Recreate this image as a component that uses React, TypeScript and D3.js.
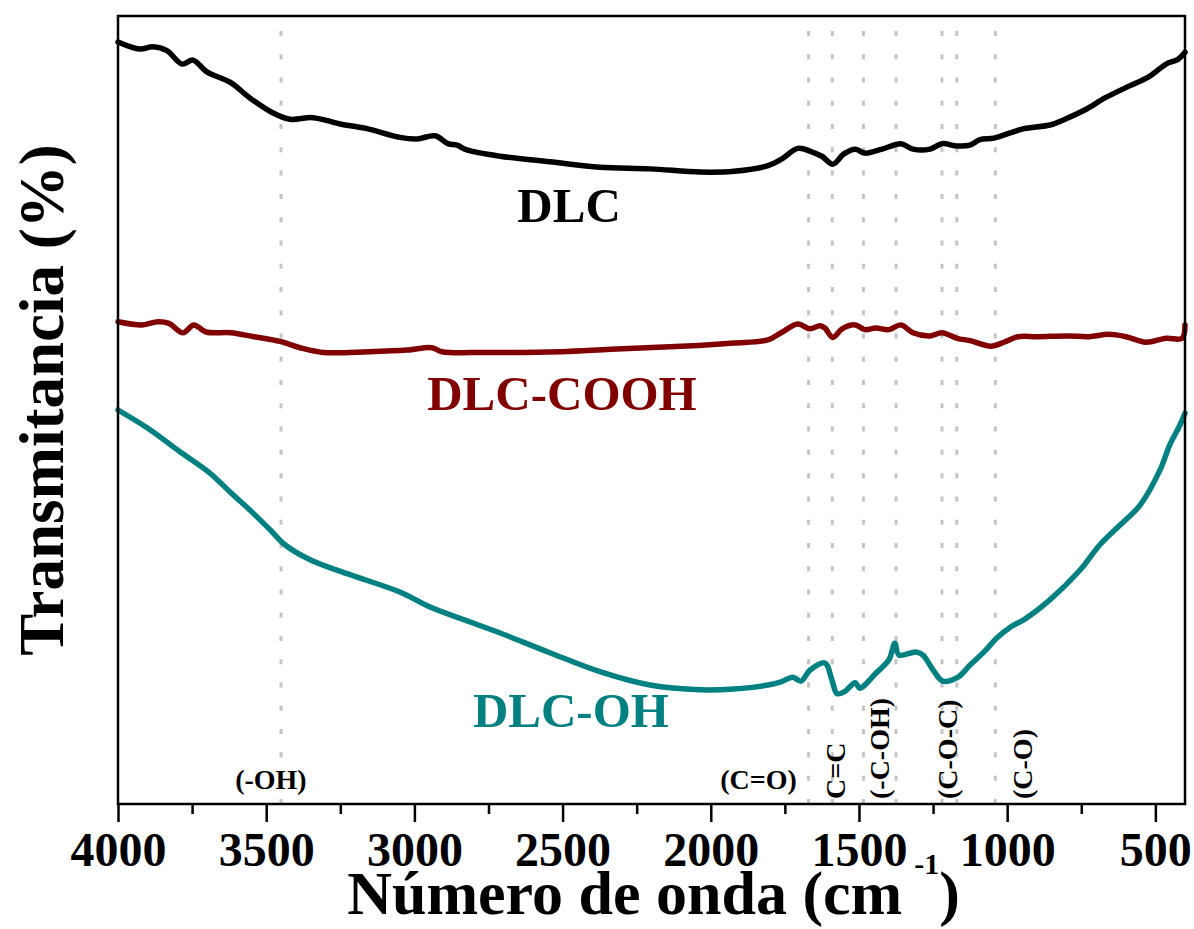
import React, { useEffect, useRef } from "react";
import * as d3 from "d3";

// FTIR spectra: [wavenumber (cm-1), transmittance (a.u.)]
const dlc: [number, number][] = [
  [4000, 96.7], [3926, 95.8], [3882, 96.1], [3835, 95.6], [3784, 93.9], [3747, 94.4],
  [3700, 92.9], [3622, 91.6], [3555, 89.6], [3477, 87.7], [3420, 86.9], [3342, 87.1],
  [3251, 86.3], [3160, 85.7], [3049, 84.6], [2991, 84.4], [2930, 84.8], [2887, 83.8],
  [2856, 83.6], [2823, 83.0], [2711, 82.2], [2543, 81.5], [2374, 80.8], [2205, 80.6],
  [2036, 80.2], [1922, 80.3], [1807, 81.0], [1763, 81.8], [1706, 83.2], [1662, 82.8],
  [1625, 82.2], [1588, 81.2], [1551, 82.5], [1513, 83.1], [1480, 82.6], [1422, 83.1],
  [1358, 83.8], [1318, 83.1], [1260, 83.1], [1220, 83.8], [1169, 83.5], [1126, 83.6],
  [1092, 84.3], [1045, 84.5], [987, 85.2], [943, 85.7], [852, 86.2], [805, 86.9],
  [737, 88.1], [670, 89.6], [589, 91.1], [521, 92.3], [464, 93.9], [424, 94.5], [400, 95.4],
];

const dlcCooh: [number, number][] = [
  [4000, 61.2], [3919, 60.8], [3865, 61.2], [3828, 61.0], [3781, 59.8], [3744, 60.8],
  [3703, 59.9], [3619, 59.8], [3541, 59.3], [3453, 58.7], [3386, 57.9], [3308, 57.3],
  [3153, 57.4], [3025, 57.6], [2941, 57.9], [2907, 57.4], [2765, 57.3], [2505, 57.4],
  [2337, 57.7], [2040, 58.2], [1922, 58.5], [1807, 58.9], [1763, 59.8], [1706, 60.9],
  [1665, 60.3], [1632, 60.7], [1615, 60.4], [1588, 59.2], [1557, 60.3], [1513, 60.8],
  [1480, 60.2], [1443, 60.4], [1399, 60.2], [1358, 60.8], [1318, 59.8], [1260, 59.4],
  [1220, 59.8], [1169, 59.1], [1126, 58.8], [1055, 58.1], [1011, 58.6], [964, 59.3],
  [897, 59.3], [795, 59.4], [724, 59.3], [657, 59.6], [599, 59.3], [532, 58.6],
  [464, 59.1], [410, 59.1], [400, 60.8],
];

const dlcOh: [number, number][] = [
  [4000, 50.0], [3892, 47.5], [3791, 44.7], [3690, 42.0], [3622, 39.6], [3555, 37.3],
  [3487, 34.8], [3437, 32.9], [3352, 31.0], [3217, 29.1], [3049, 26.9], [2947, 25.0],
  [2812, 23.1], [2711, 21.7], [2543, 19.2], [2374, 16.8], [2205, 15.1], [2036, 14.5],
  [1922, 14.6], [1807, 15.1], [1763, 15.5], [1723, 16.1], [1696, 15.6], [1665, 17.0],
  [1615, 17.9], [1591, 15.7], [1574, 14.0], [1547, 14.3], [1513, 15.4], [1497, 14.7],
  [1443, 16.6], [1399, 18.3], [1379, 20.4], [1365, 18.9], [1308, 19.3], [1284, 18.9],
  [1250, 17.0], [1217, 15.6], [1166, 16.1], [1126, 17.6], [1078, 19.3], [1034, 21.1],
  [987, 22.5], [943, 23.4], [856, 25.9], [754, 29.7], [687, 32.9], [619, 35.4],
  [552, 37.9], [484, 42.4], [451, 45.6], [417, 48.1], [400, 49.6],
];

const seriesNames = ["DLC", "DLC-COOH", "DLC-OH"];
const seriesColors = ["#000000", "#800000", "#008080"];
// series label anchor: [wavenumber, transmittance]
const seriesLabelAt: [number, number][] = [[2478, 73.9], [2502, 50.0], [2472, 9.8]];

const majorTicks = [4000, 3500, 3000, 2500, 2000, 1500, 1000, 500];
const minorTicks = [3750, 3250, 2750, 2250, 1750, 1250, 750];

// band positions marked with dotted guides (cm-1)
const bandLines = [3450, 1670, 1590, 1485, 1375, 1220, 1170, 1040];

// band assignments: [text, wavenumber, rotated]
const bandLabels: [string, number, boolean][] = [
  ["(-OH)", 3484, false],
  ["(C=O)", 1839, false],
  ["C=C", 1547, true],
  ["(-C-OH)", 1399, true],
  ["(C-O-C)", 1169, true],
  ["(C-O)", 916, true],
];

const FONT = "'Liberation Serif', 'Times New Roman', Times, serif";

export default function App() {
  const ref = useRef<SVGSVGElement | null>(null);

  useEffect(() => {
    const W = 1194, H = 929;
    const m = { left: 118, right: 1185, top: 16, bottom: 804 };
    const svg = d3.select(ref.current);
    svg.selectAll("*").remove();

    const x = d3.scaleLinear().domain([4000, 400]).range([m.left, m.right]);
    const y = d3.scaleLinear().domain([0, 100]).range([m.bottom, m.top]);

    // dotted band guides
    svg.append("g")
      .selectAll("line")
      .data(bandLines)
      .join("line")
      .attr("x1", (d) => x(d))
      .attr("x2", (d) => x(d))
      .attr("y1", 31)
      .attr("y2", m.bottom)
      .attr("stroke", "#c4c4c4")
      .attr("stroke-width", 3)
      .attr("stroke-dasharray", "5 18.27");

    // spectra
    const line = d3.line<[number, number]>()
      .x((d) => x(d[0]))
      .y((d) => y(d[1]))
      .curve(d3.curveCatmullRom.alpha(0.5));
    [dlc, dlcCooh, dlcOh].forEach((s, i) => {
      svg.append("path")
        .attr("d", line(s))
        .attr("fill", "none")
        .attr("stroke", seriesColors[i])
        .attr("stroke-width", 5.5)
        .attr("stroke-linejoin", "round")
        .attr("stroke-linecap", "round");
    });

    // frame
    svg.append("rect")
      .attr("x", m.left)
      .attr("y", m.top)
      .attr("width", m.right - m.left)
      .attr("height", m.bottom - m.top)
      .attr("fill", "none")
      .attr("stroke", "#000")
      .attr("stroke-width", 2.5);

    // bottom axis: major ticks with labels
    const gMajor = svg.append("g")
      .attr("transform", `translate(0,${m.bottom})`)
      .call(d3.axisBottom(x).tickValues(majorTicks).tickSize(18).tickFormat(d3.format("d")));
    gMajor.select(".domain").remove();
    gMajor.selectAll(".tick line").attr("stroke", "#000").attr("stroke-width", 2.5);
    gMajor.selectAll(".tick text")
      .attr("y", 62)
      .attr("dy", 0)
      .attr("fill", "#000")
      .style("font-family", FONT)
      .style("font-weight", "bold")
      .style("font-size", "48px");

    // minor ticks
    const gMinor = svg.append("g")
      .attr("transform", `translate(0,${m.bottom})`)
      .call(d3.axisBottom(x).tickValues(minorTicks).tickSize(10).tickFormat(() => ""));
    gMinor.select(".domain").remove();
    gMinor.selectAll(".tick line").attr("stroke", "#000").attr("stroke-width", 2.5);

    // axis titles
    const xt = svg.append("text")
      .attr("x", (m.left + m.right) / 2 + 2)
      .attr("y", 914)
      .attr("text-anchor", "middle")
      .style("font-family", FONT)
      .style("font-weight", "bold")
      .style("font-size", "62px");
    xt.append("tspan").text("Número de onda (cm");
    xt.append("tspan").attr("dx", 12).attr("dy", -40).style("font-size", "30px").text("-1");
    xt.append("tspan").attr("dy", 40).text(")");

    svg.append("text")
      .attr("transform", `translate(63,${(m.top + m.bottom) / 2 - 10}) rotate(-90)`)
      .attr("text-anchor", "middle")
      .style("font-family", FONT)
      .style("font-weight", "bold")
      .style("font-size", "63px")
      .text("Transmitancia (%)");

    // series labels
    seriesNames.forEach((name, i) => {
      svg.append("text")
        .attr("x", x(seriesLabelAt[i][0]))
        .attr("y", y(seriesLabelAt[i][1]))
        .attr("text-anchor", "middle")
        .attr("fill", seriesColors[i])
        .style("font-family", FONT)
        .style("font-weight", "bold")
        .style("font-size", "49px")
        .text(name);
    });

    // band assignment labels
    bandLabels.forEach(([t, wn, rot]) => {
      const el = svg.append("text")
        .style("font-family", FONT)
        .style("font-weight", "bold")
        .style("font-size", "28px")
        .attr("fill", "#000")
        .text(t);
      if (rot) {
        el.attr("transform", `translate(${x(wn)},799) rotate(-90)`).attr("text-anchor", "start");
      } else {
        el.attr("x", x(wn)).attr("y", 789).attr("text-anchor", "middle");
      }
    });

    svg.attr("width", W).attr("height", H);
  }, []);

  return (
    <div style={{ position: "absolute", left: 0, top: 0 }}>
      <svg ref={ref} width={1194} height={929} style={{ display: "block", background: "#fff" }} />
    </div>
  );
}
